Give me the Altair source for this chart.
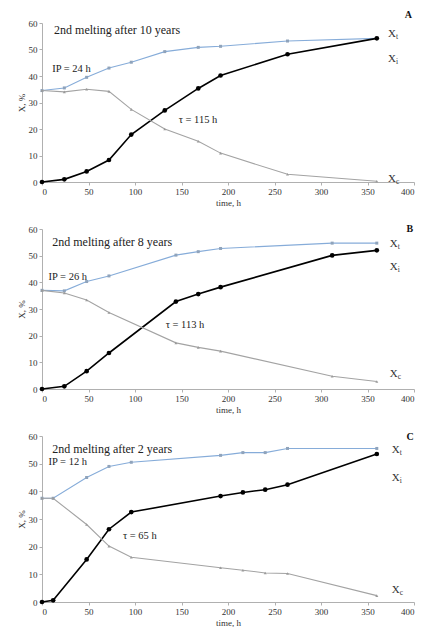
import altair as alt
import pandas as pd

# ---- data ----
A_time = [0, 24, 48, 72, 96, 132, 168, 192, 264, 360]
A_Xt = [34.5, 35.5, 39.5, 43.0, 45.2, 49.2, 50.8, 51.2, 53.2, 54.2]
A_Xi = [0, 1.0, 4.0, 8.3, 17.9, 27.0, 35.3, 40.2, 48.2, 54.2]
A_Xc = [34.5, 34.0, 35.0, 34.2, 27.4, 20.0, 15.4, 10.9, 2.9, 0.3]

B_time = [0, 24, 48, 72, 144, 168, 192, 312, 360]
B_Xt = [37.0, 36.8, 40.3, 42.4, 50.2, 51.5, 52.7, 54.7, 54.7]
B_Xi = [0, 1.0, 6.7, 13.5, 32.8, 35.6, 38.2, 50.1, 52.0]
B_Xc = [37.0, 36.0, 33.4, 28.7, 17.3, 15.6, 14.2, 4.8, 2.8]

C_time = [0, 12, 48, 72, 96, 192, 216, 240, 264, 360]
C_Xt = [37.5, 37.5, 45.0, 49.0, 50.5, 53.0, 54.0, 54.0, 55.5, 55.5]
C_Xi = [0, 0.6, 15.4, 26.3, 32.5, 38.3, 39.6, 40.6, 42.4, 53.5]
C_Xc = [37.5, 37.5, 28.0, 20.2, 16.2, 12.4, 11.5, 10.5, 10.3, 2.3]

x_ticks = [0, 50, 100, 150, 200, 250, 300, 350, 400]
y_ticks = [0, 10, 20, 30, 40, 50, 60]

panels = [
    dict(letter="A", time=A_time, Xt=A_Xt, Xi=A_Xi, Xc=A_Xc,
         title="2nd melting after 10 years", ip="IP = 24 h", tau="τ = 115 h",
         title_xy=(13, 57.5), ip_xy=(11, 42.6), tau_xy=(147, 23.5),
         letter_xy=(390, 63.0), lab_y=(56.0, 46.4, 1.2), lab_x=372, height=159),
    dict(letter="B", time=B_time, Xt=B_Xt, Xi=B_Xi, Xc=B_Xc,
         title="2nd melting after 8 years", ip="IP = 26 h", tau="τ = 113 h",
         title_xy=(11, 55.0), ip_xy=(7, 42.0), tau_xy=(133, 24.0),
         letter_xy=(392, 60.0), lab_y=(54.5, 45.9, 5.6), lab_x=374, height=160),
    dict(letter="C", time=C_time, Xt=C_Xt, Xi=C_Xi, Xc=C_Xc,
         title="2nd melting after 2 years", ip="IP = 12 h", tau="τ = 65 h",
         title_xy=(11, 55.4), ip_xy=(7, 50.5), tau_xy=(87, 24.0),
         letter_xy=(392, 59.5), lab_y=(55.0, 45.0, 4.4), lab_x=376, height=166),
]

FONT = "Liberation Serif"
series_dom = ["Xt", "Xi", "Xc"]
style = {
    "Xt": dict(line="#86acd9", pt="#8fa3bb", width=1.1, shape="square", size=9),
    "Xi": dict(line="#000000", pt="#000000", width=1.6, shape="circle", size=22),
    "Xc": dict(line="#a3a3a3", pt="#9a9a9a", width=1.1, shape="triangle-up", size=9),
}


def panel(p):
    x = alt.X("time:Q", scale=alt.Scale(domain=[0, 400], nice=False),
              axis=alt.Axis(values=x_ticks, title="time, h", grid=False, labelOverlap=False))
    y = alt.Y("value:Q", scale=alt.Scale(domain=[0, 60], nice=False),
              axis=alt.Axis(values=y_ticks, title="X, %", grid=False, labelOverlap=False))
    layers = []
    for s in series_dom:
        df = pd.DataFrame({"time": p["time"], "value": p[s]})
        st = style[s]
        base = alt.Chart(df).encode(x=x, y=y)
        layers.append(base.mark_line(color=st["line"], strokeWidth=st["width"], clip=False))
        layers.append(base.mark_point(filled=True, color=st["pt"], shape=st["shape"],
                                      size=st["size"], opacity=1, clip=False))

    ann = pd.DataFrame([
        {"time": p["title_xy"][0], "value": p["title_xy"][1], "t": p["title"], "fs": 12},
        {"time": p["ip_xy"][0], "value": p["ip_xy"][1], "t": p["ip"], "fs": 10.5},
        {"time": p["tau_xy"][0], "value": p["tau_xy"][1], "t": p["tau"], "fs": 10.5},
    ])
    layers.append(alt.Chart(ann).mark_text(align="left", baseline="middle", font=FONT,
                                           color="#222").encode(
        x=x, y=y, text="t:N", size=alt.Size("fs:Q", scale=None, legend=None)))

    let = pd.DataFrame([{"time": p["letter_xy"][0], "value": p["letter_xy"][1], "t": p["letter"]}])
    layers.append(alt.Chart(let).mark_text(align="left", baseline="middle", font=FONT,
                                           fontSize=10, fontWeight="bold", color="#111").encode(
        x=x, y=y, text="t:N"))

    labs = pd.DataFrame([
        {"time": p["lab_x"], "value": p["lab_y"][0], "t": "X", "s": "t"},
        {"time": p["lab_x"], "value": p["lab_y"][1], "t": "X", "s": "i"},
        {"time": p["lab_x"], "value": p["lab_y"][2], "t": "X", "s": "c"},
    ])
    layers.append(alt.Chart(labs).mark_text(align="left", baseline="middle", font=FONT,
                                            fontSize=11, color="#333").encode(
        x=x, y=y, text="t:N"))
    layers.append(alt.Chart(labs).mark_text(align="left", baseline="middle", font=FONT,
                                            fontSize=7.5, color="#333", dx=8, dy=3).encode(
        x=x, y=y, text="s:N"))

    return alt.layer(*layers).properties(width=372, height=p["height"])


A, B, C = [panel(p) for p in panels]

chart = alt.vconcat(A, B, C, spacing=47, bounds="flush").properties(
    padding={"top": 2, "left": 9, "right": 0, "bottom": 0}
).configure_axis(
    labelFont=FONT, titleFont=FONT, labelFontSize=9, titleFontSize=9,
    labelColor="#333", titleColor="#333", titleFontWeight="normal",
    domainColor="#b0b0b0", tickColor="#b0b0b0", tickSize=3,
    labelPadding=2, titlePadding=2,
).configure_view(stroke=None)

chart.save("out.html", embed_options={"renderer": "svg", "actions": False})
